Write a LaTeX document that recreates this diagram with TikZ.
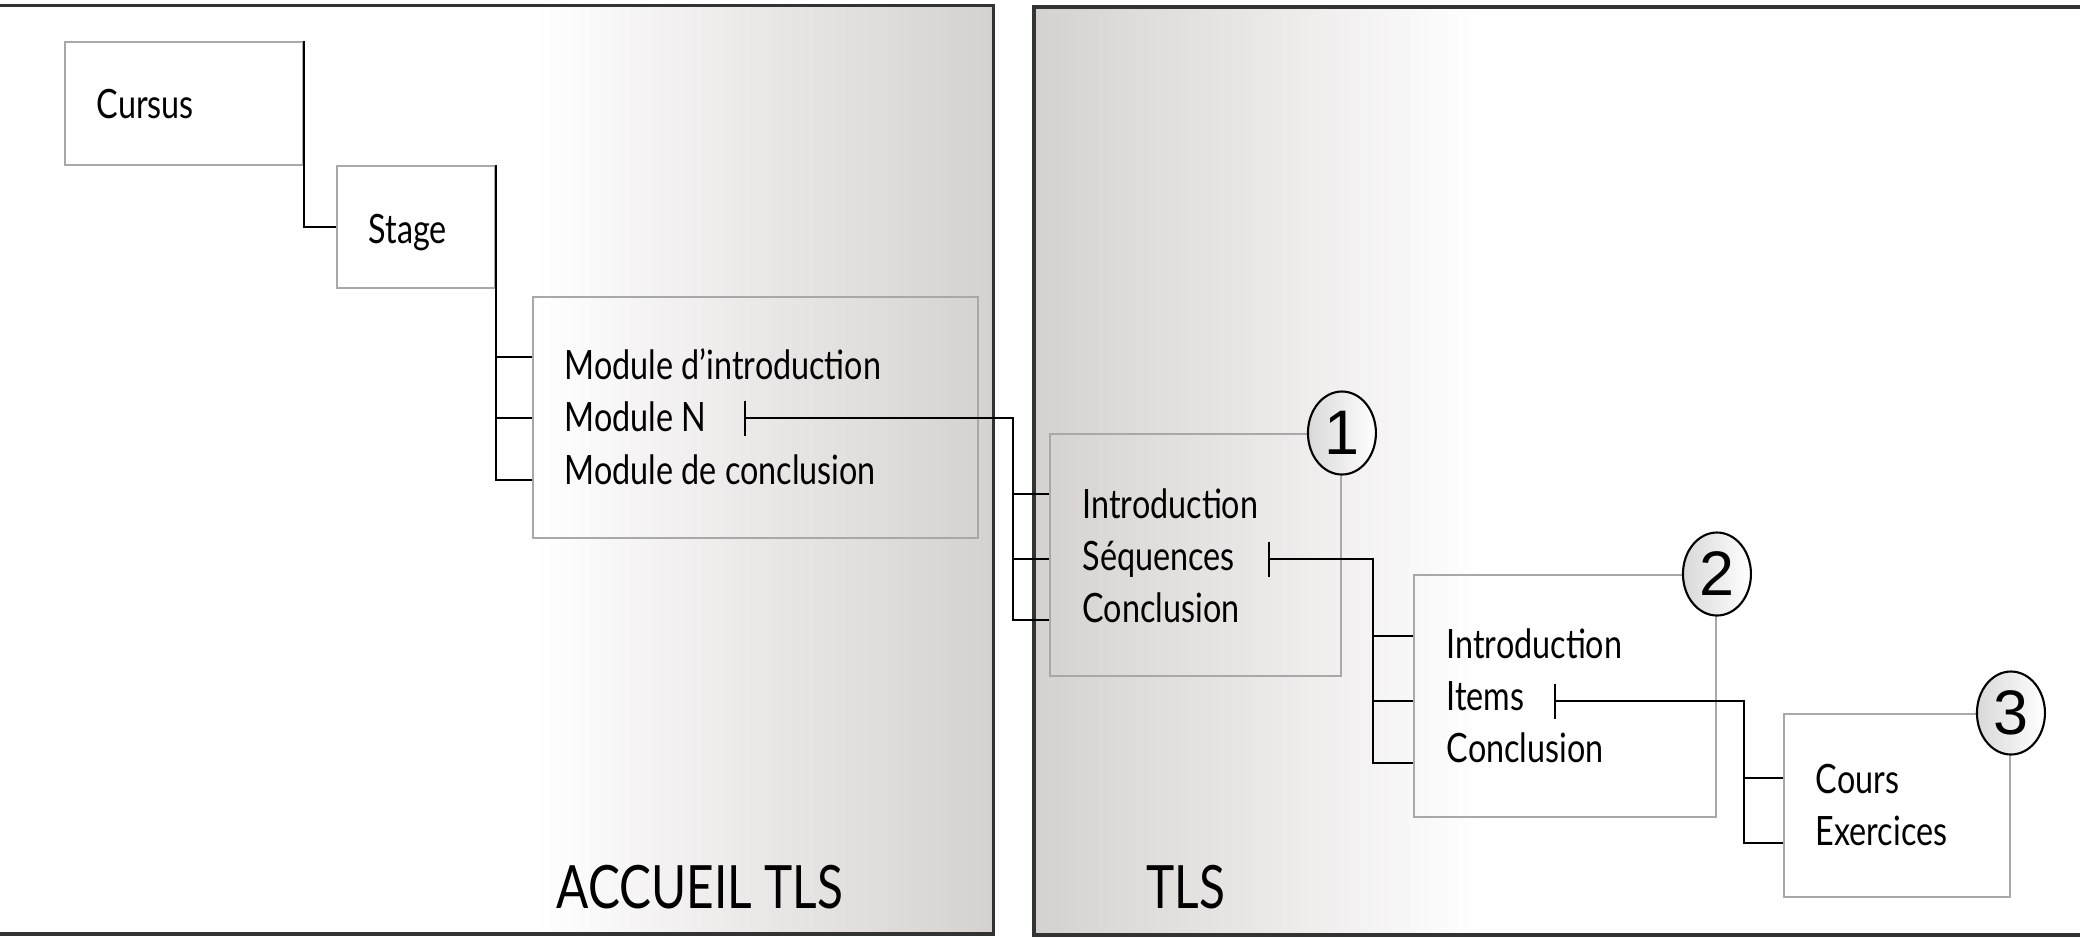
\documentclass[tikz,border=0pt]{standalone}
\usepackage{fontspec}
\setmainfont[FakeStretch=0.8]{Lato}
\newfontfamily\digitfont{Liberation Sans}
\usetikzlibrary{shapes.geometric}
\definecolor{panelgray}{RGB}{213,209,207}
\definecolor{boxgray}{RGB}{168,168,168}

\begin{document}
\begin{tikzpicture}[x=0.1mm,y=-0.1mm,
  box/.style={draw=boxgray,line width=0.55pt,anchor=north west,inner sep=0pt},
  link/.style={line width=0.75pt,black},
  panel/.style={line width=0.9pt,draw=black!80},
  item/.style={anchor=base west,inner sep=0pt,font=\fontsize{11.5}{13}\selectfont},
  title/.style={anchor=base west,inner sep=0pt,font=\fontsize{17}{20}\selectfont},
  num/.style={ellipse,draw,line width=0.6pt,minimum width=6.8mm,minimum height=8.3mm,inner sep=0pt,
    left color=gray!30,right color=white,font=\digitfont\fontsize{17.9}{20}\selectfont}]

  \useasboundingbox (0,0) rectangle (2080,937);

  \shade[left color=white,right color=panelgray] (535,5) rectangle (993,934);
  \shade[left color=panelgray,right color=white] (1034,7) rectangle (1482,935);
  \draw[panel] (0,5.5) -- (993.5,5.5) -- (993.5,934) -- (0,934);
  \draw[panel] (2080,7) -- (1034,7) -- (1034,935) -- (2080,935);

  \node[box,minimum width=23.8mm,minimum height=12.3mm] (cursus) at (64,41) {};
  \node[box,minimum width=15.8mm,minimum height=12.2mm] (stage) at (336,165) {};
  \node[box,minimum width=44.5mm,minimum height=24.1mm] (module) at (532,296) {};
  \node[box,minimum width=29.1mm,minimum height=24.2mm] (seqbox) at (1049,433) {};
  \node[box,minimum width=30.2mm,minimum height=24.2mm] (itembox) at (1413,574) {};
  \node[box,minimum width=22.6mm,minimum height=18.3mm] (exbox) at (1783,713) {};

  \coordinate (m1) at (532,357);
  \coordinate (m2) at (532,418);
  \coordinate (m3) at (532,480);
  \coordinate (t1) at (745,418);
  \coordinate (a1) at (1049,494);
  \coordinate (a2) at (1049,559);
  \coordinate (a3) at (1049,620);
  \coordinate (t2) at (1269,559);
  \coordinate (b1) at (1413,636);
  \coordinate (b2) at (1413,701);
  \coordinate (b3) at (1413,763);
  \coordinate (t3) at (1555,701);
  \coordinate (c1) at (1783,778);
  \coordinate (c2) at (1783,843);

  \draw[link] (cursus.north east) |- (stage.west);
  \draw[link] (stage.north east) |- (m3);
  \foreach \p in {m1,m2}
    \draw[link] (stage.north east |- \p) -- (\p);

  \draw[link] (t1) -| ([xshift=-3.6mm]a3) -- (a3);
  \foreach \p in {a1,a2}
    \draw[link] ([xshift=-3.6mm]\p) -- (\p);
  \draw[link] (t2) -| ([xshift=-4mm]b3) -- (b3);
  \foreach \p in {b1,b2}
    \draw[link] ([xshift=-4mm]\p) -- (\p);
  \draw[link] (t3) -| ([xshift=-3.9mm]c2) -- (c2);
  \draw[link] ([xshift=-3.9mm]c1) -- (c1);
  \foreach \p in {t1,t2,t3}
    \draw[link] ([yshift=1.75mm]\p) -- ([yshift=-1.75mm]\p);

  \node[num] (n1) at (seqbox.north east) {1};
  \node[num] (n2) at (itembox.north east) {2};
  \node[num] (n3) at (exbox.north east) {3};

  \node[item] (cur) at (96,118) {Cursus};
  \node[item] (sta) at (368,243) {Stage};
  \node[item] (mod1) at (564,379) {Module d’introduction};
  \node[item] (mod2) at (564,431) {Module N};
  \node[item] (mod3) at (564,484) {Module de conclusion};
  \node[item] (seq1) at (1082,518) {Introduction};
  \node[item] (seq2) at (1082,570) {Séquences};
  \node[item] (seq3) at (1082,622) {Conclusion};
  \node[item] (ite1) at (1446,658) {Introduction};
  \node[item] (ite2) at (1446,710) {Items};
  \node[item] (ite3) at (1446,762) {Conclusion};
  \node[item] (ex1) at (1815,793) {Cours};
  \node[item] (ex2) at (1815,845) {Exercices};

  \node[title] (acc) at (556,908) {ACCUEIL TLS};
  \node[title] (tls) at (1146,908) {TLS};

\end{tikzpicture}
\end{document}
